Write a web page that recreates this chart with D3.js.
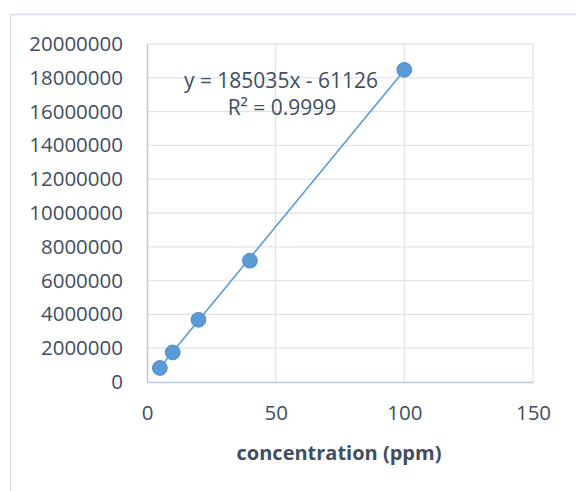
<!DOCTYPE html>
<html>
<head>
<meta charset="utf-8">
<script src="https://cdn.jsdelivr.net/npm/d3@7"></script>
<style>
  body { margin: 0; background: #fff; }
  text { font-family: "Open Sans", "Liberation Sans", sans-serif; fill: #404E61; }
</style>
</head>
<body>
<svg id="chart" width="576" height="491"></svg>
<script>
// concentration (ppm) and measured signal
var conc = [5, 10, 20, 40, 100];
var signal = [830000, 1750000, 3680000, 7180000, 18470000];
var xTicks = [0, 50, 100, 150];
var yTicks = [0, 2000000, 4000000, 6000000, 8000000, 10000000, 12000000, 14000000, 16000000, 18000000, 20000000];
var equation = "y = 185035x - 61126";
var rSquared = "R² = 0.9999";
var xTitle = "concentration (ppm)";

var svg = d3.select("#chart");

// outer chart border (runs off the picture right and bottom)
svg.append("rect")
    .attr("x", 10.5).attr("y", 14.5)
    .attr("width", 600).attr("height", 500)
    .attr("fill", "none")
    .attr("stroke", "#D9DEE6")
    .attr("stroke-width", 1.5);

var plotLeft = 147, plotRight = 533, plotTop = 44, plotBottom = 382;

var x = d3.scaleLinear().domain([0, 150]).range([plotLeft, plotRight]);
var y = d3.scaleLinear().domain([0, 20000000]).range([plotBottom, plotTop]);

// gridlines
svg.append("g").selectAll("line")
    .data(yTicks.slice(1))
    .enter().append("line")
    .attr("x1", plotLeft).attr("x2", plotRight)
    .attr("y1", function (d) { return y(d); })
    .attr("y2", function (d) { return y(d); })
    .attr("stroke", "#E1E5EB").attr("stroke-width", 1.3);

svg.append("g").selectAll("line")
    .data(xTicks.slice(1))
    .enter().append("line")
    .attr("x1", function (d) { return x(d); })
    .attr("x2", function (d) { return x(d); })
    .attr("y1", plotTop).attr("y2", plotBottom)
    .attr("stroke", "#E1E5EB").attr("stroke-width", 1.3);

// axes
var yAxis = svg.append("g")
    .attr("transform", "translate(" + plotLeft + ",0)")
    .call(d3.axisLeft(y).tickValues(yTicks).tickSize(0).tickPadding(24).tickFormat(d3.format("d")));
var xAxis = svg.append("g")
    .attr("transform", "translate(0," + plotBottom + ")")
    .call(d3.axisBottom(x).tickValues(xTicks).tickSize(0).tickPadding(23).tickFormat(d3.format("d")));

[yAxis, xAxis].forEach(function (a) {
    a.select(".domain").attr("stroke", "#BFC8D4").attr("stroke-width", 1.5);
    a.selectAll("text").attr("font-size", 20.5).attr("fill", "#404E61")
        .attr("font-family", "'Open Sans', 'Liberation Sans', sans-serif");
});

// trendline
var fit = d3.line()
    .x(function (d) { return x(d); })
    .y(function (d) { return y(185035 * d - 61126); });
svg.append("path")
    .datum([conc[0], conc[conc.length - 1]])
    .attr("d", fit)
    .attr("fill", "none")
    .attr("stroke", "#5B9BD5")
    .attr("stroke-width", 1.6);

// points
svg.append("g").selectAll("circle")
    .data(conc)
    .enter().append("circle")
    .attr("cx", function (d) { return x(d); })
    .attr("cy", function (d, i) { return y(signal[i]); })
    .attr("r", 7.4)
    .attr("fill", "#5B9BD5")
    .attr("stroke", "#4F8FCB")
    .attr("stroke-width", 1);

// equation label
svg.append("text")
    .attr("x", 281).attr("y", 87.5)
    .attr("text-anchor", "middle")
    .attr("font-size", 21)
    .text(equation);
svg.append("text")
    .attr("x", 282).attr("y", 114.5)
    .attr("text-anchor", "middle")
    .attr("font-size", 21)
    .text(rSquared);

// axis title
svg.append("text")
    .attr("x", 339).attr("y", 460)
    .attr("text-anchor", "middle")
    .attr("font-size", 20)
    .attr("font-weight", "bold")
    .text(xTitle);
</script>
</body>
</html>
